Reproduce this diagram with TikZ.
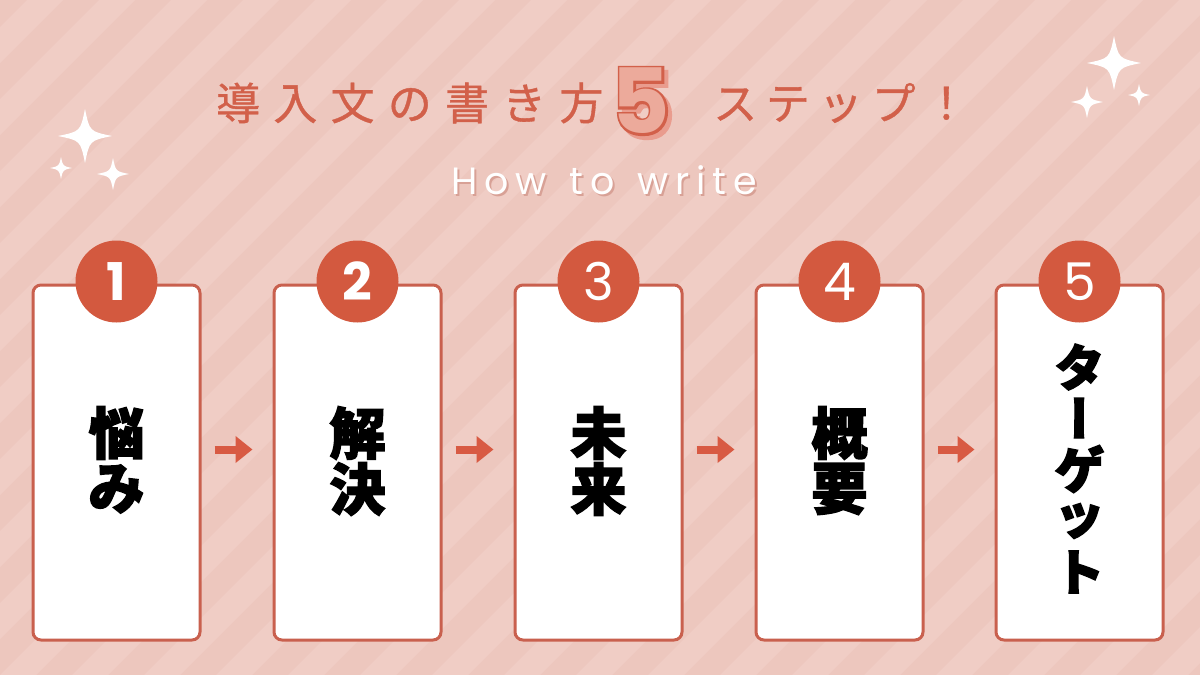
\documentclass[tikz,border=0pt]{standalone}
\usepackage{fontspec}
\usetikzlibrary{arrows.meta}
\newfontfamily\jpheavy{Noto Sans CJK JP}[BoldFeatures={FakeBold=2.5}]
\newfontfamily\jptitle{Noto Sans CJK JP}[LetterSpace=30,FakeBold=0.8]
\newfontfamily\jptitlekana{Noto Sans CJK JP}[LetterSpace=20,FakeBold=0.8]
\newfontfamily\pop{Poppins}
\newfontfamily\popspaced{Poppins}[LetterSpace=18]
\newfontfamily\popfat{Poppins}[BoldFeatures={FakeBold=5}]
\definecolor{bg}{HTML}{EDC7BE}
\definecolor{stripe}{HTML}{F0CDC5}
\definecolor{badgered}{HTML}{D3593F}
\definecolor{cardline}{HTML}{C9604E}
\definecolor{arrowred}{HTML}{D85A43}
\definecolor{titlered}{HTML}{D2604A}
\definecolor{fivefill}{HTML}{ECAA9B}
\definecolor{fiveshadow}{HTML}{E99C8E}
\definecolor{hshadow}{HTML}{D8A196}
\tikzset{
  card/.style={draw=cardline, line width=3pt, fill=white, rounded corners=8pt,
    minimum width=167pt, minimum height=355pt, inner sep=0pt},
  badge/.style={circle, fill=badgered, minimum size=82pt, inner sep=0pt,
    text=white, font=\pop\fontsize{52}{52}\selectfont},
  badgebold/.style={badge, font=\pop\bfseries\fontsize{52}{52}\selectfont},
  cardtxt/.style={inner sep=0pt, text=black, font=\jpheavy\bfseries\fontsize{56}{56}\selectfont},
  cardtxtsm/.style={inner sep=0pt, text=black, font=\jpheavy\bfseries\fontsize{50}{50}\selectfont},
  flow/.style={draw=arrowred, line width=8pt, -{Triangle[length=17pt,width=26pt]},
    shorten <=13pt, shorten >=20pt},
  titletxt/.style={inner sep=0pt, anchor=west, text=titlered},
  sparkle/.pic={\fill[white] (0,-1) .. controls (0.17,-0.17) .. (1,0)
     .. controls (0.17,0.17) .. (0,1) .. controls (-0.17,0.17) .. (-1,0)
     .. controls (-0.17,-0.17) .. (0,-1) -- cycle;}
}
\begin{document}
\begin{tikzpicture}[x=1pt,y=-1pt]
\useasboundingbox (0,0) rectangle (1200,675);
\fill[bg] (0,0) rectangle (1200,675);
\begin{scope}
  \clip (0,0) rectangle (1200,675);
  \foreach \i in {-12,...,21} {
    \fill[stripe] (\i*72,675) -- ++(36,0) -- ++(675,-675) -- ++(-36,0) -- cycle;
  }
\end{scope}

% sparkles
\pic[scale=27] at (85,136) {sparkle};
\pic[scale=11] at (61,168) {sparkle};
\pic[scale=16] at (113,174) {sparkle};
\pic[scale=27] at (1114,63) {sparkle};
\pic[scale=16] at (1087,102) {sparkle};
\pic[scale=11] at (1139,95) {sparkle};

% title
\node[titletxt, font=\jptitle\fontsize{44}{44}\selectfont] (ttl1) at (216,103) {導入文の書き方};
\node[titletxt, font=\jptitlekana\fontsize{44}{44}\selectfont] (ttl2) at (713,103) {ステップ！};
\node[inner sep=0pt, font=\fontsize{90}{90}\selectfont] (five) at (641,103)
  {\rlap{\hspace{4pt}\raisebox{-4pt}{\textcolor{fiveshadow}{\popfat\bfseries 5}}}%
   \rlap{\textcolor{titlered}{\popfat\bfseries 5}}%
   \textcolor{fivefill}{\pop\bfseries 5}};

% subtitle
\node[inner sep=0pt, font=\popspaced\fontsize{38}{38}\selectfont] (sub) at (604,181)
  {\rlap{\hspace{2pt}\raisebox{-2pt}{\textcolor{hshadow}{How\hspace{6pt} to\hspace{6pt} write}}}%
   \textcolor{white}{How\hspace{6pt} to\hspace{6pt} write}};

% cards
\node[card] (c1) at (116.5,462.5) {};
\node[card] (c2) at (357.5,462.5) {};
\node[card] (c3) at (598.5,462.5) {};
\node[card] (c4) at (839.5,462.5) {};
\node[card] (c5) at (1079.5,462.5) {};

% badges
\node[badgebold] (b1) at ([yshift=2pt]c1.north) {1};
\node[badgebold] (b2) at ([yshift=2pt]c2.north) {2};
\node[badge] (b3) at ([yshift=2pt]c3.north) {3};
\node[badge] (b4) at ([yshift=2pt]c4.north) {4};
\node[badge] (b5) at ([yshift=2pt]c5.north) {5};

% card texts
\node[cardtxt] (t1a) at (116.5,433) {悩};
\node[cardtxt] (t1b) at (116.5,489) {み};
\node[cardtxt] (t2a) at (357.5,433) {解};
\node[cardtxt] (t2b) at (357.5,489) {決};
\node[cardtxt] (t3a) at (598.5,433) {未};
\node[cardtxt] (t3b) at (598.5,489) {来};
\node[cardtxt] (t4a) at (839.5,433) {概};
\node[cardtxt] (t4b) at (839.5,489) {要};
\node[cardtxtsm] (t5a) at (1079.5,367) {タ};
\node[cardtxtsm, font=\jpheavy\bfseries\fontsize{50}{50}\selectfont\addfontfeatures{RawFeature=+vert}] (t5b) at (1079.5,418) {ー};
\node[cardtxtsm] (t5c) at (1079.5,469) {ゲ};
\node[cardtxtsm] (t5d) at (1079.5,521) {ッ};
\node[cardtxtsm] (t5e) at (1079.5,572) {ト};

% arrows
\draw[flow] ([yshift=13pt]c1.east) -- ([yshift=13pt]c2.west);
\draw[flow] ([yshift=13pt]c2.east) -- ([yshift=13pt]c3.west);
\draw[flow] ([yshift=13pt]c3.east) -- ([yshift=13pt]c4.west);
\draw[flow] ([yshift=13pt]c4.east) -- ([yshift=13pt]c5.west);
\end{tikzpicture}
\end{document}
